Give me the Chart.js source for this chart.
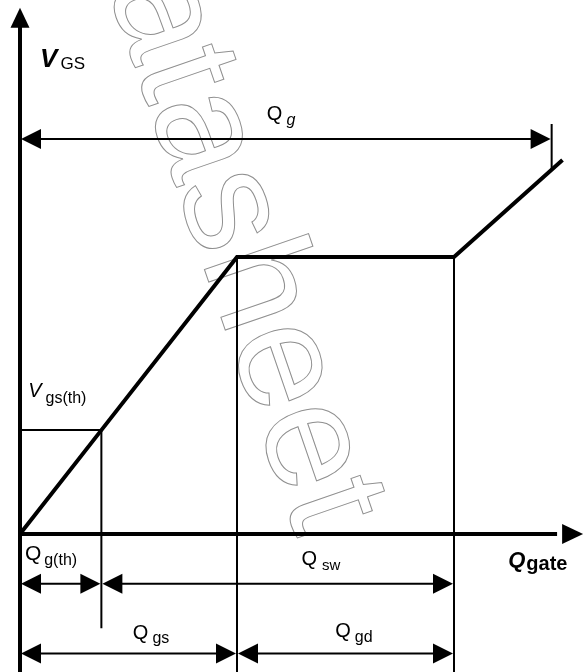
<!DOCTYPE html>
<html>
<head>
<meta charset="utf-8">
<script src="https://cdn.jsdelivr.net/npm/chart.js@4"></script>
<style>
  body { margin: 0; background: #fff; }
  canvas { display: block; }
</style>
</head>
<body>
<canvas id="gateChart" width="587" height="672"></canvas>
<script>
// gate charge curve (Q in nC, V in volts)
const chargeQ = [0, 1.5, 4, 8, 10];
const gateV = [0, 3.75, 10, 10, 13.5];

// key levels
const qTh = 1.5, qGs = 4, qSwEnd = 8, qG = 9.8;
const vTh = 3.75, vPlateau = 10, vAtQg = 13.15;

// dimension arrows: from, to, level (V units)
const dimFrom = [0, 0, 1.5, 0, 4];
const dimTo = [9.8, 1.5, 8, 4, 8];
const dimLevel = [14.26, -1.8, -1.8, -4.31, -4.31];

// labels
const labelMain = ["V", "Q", "V", "Q", "Q", "Q", "Q", "Q"];
const labelSub = ["GS", "g", "gs(th)", "g(th)", "sw", "gate", "gs", "gd"];

const FONT = "'Liberation Sans', Arial, sans-serif";

// where every label sits (data units) and how it is styled
const labelStyle = [
    { x: 0.37, y: 16.86, main: "bold italic 26px", sub: "17px", gap: 3, drop: 2 },
    { x: 4.55, y: 14.95, main: "20px", sub: "italic 16px", gap: 4, drop: 5 },
    { x: 0.15, y: 4.95, main: "italic 20px", sub: "16px", gap: 4, drop: 6 },
    { x: 0.09, y: -0.94, main: "21px", sub: "16px", gap: 3, drop: 5 },
    { x: 5.19, y: -1.12, main: "20px", sub: "15px", gap: 5, drop: 5 },
    { x: 9.0, y: -1.19, main: "bold italic 22px", sub: "bold 20px", gap: 1, drop: 3 },
    { x: 2.08, y: -3.79, main: "20px", sub: "16px", gap: 4, drop: 4 },
    { x: 5.81, y: -3.71, main: "20px", sub: "16px", gap: 4, drop: 5 }
];

const curve = chargeQ.map((q, i) => ({ x: q, y: gateV[i] }));

function line(points, width) {
    return {
        data: points,
        showLine: true,
        borderColor: "#000",
        borderWidth: width,
        pointRadius: 0,
        clip: false,
        borderJoinStyle: "miter"
    };
}

function arrowHead(ctx, tipX, tipY, dirX, dirY, len, half) {
    const px = -dirY, py = dirX;
    ctx.beginPath();
    ctx.moveTo(tipX, tipY);
    ctx.lineTo(tipX - dirX * len + px * half, tipY - dirY * len + py * half);
    ctx.lineTo(tipX - dirX * len - px * half, tipY - dirY * len - py * half);
    ctx.closePath();
    ctx.fill();
}

const sketchPlugin = {
    id: "sketch",
    beforeDatasetsDraw(chart) {
        // faint outlined watermark
        const ctx = chart.ctx;
        ctx.save();
        ctx.translate(80, -92);
        ctx.rotate(71 * Math.PI / 180);
        ctx.font = "152px " + FONT;
        ctx.strokeStyle = "#8f8f8f";
        ctx.lineWidth = 1;
        ctx.strokeText("datasheet", 0, 0);
        ctx.restore();
    },
    afterDatasetsDraw(chart) {
        const ctx = chart.ctx;
        const xs = chart.scales.x, ys = chart.scales.y;
        ctx.save();
        ctx.fillStyle = "#000";
        ctx.strokeStyle = "#000";

        // axis arrowheads
        arrowHead(ctx, xs.getPixelForValue(0), ys.getPixelForValue(19.0), 0, -1, 20, 9.5);
        arrowHead(ctx, xs.getPixelForValue(10.38), ys.getPixelForValue(0), 1, 0, 21, 10);

        // dimension arrows
        ctx.lineWidth = 2;
        dimFrom.forEach((f, i) => {
            const y = ys.getPixelForValue(dimLevel[i]);
            const x1 = xs.getPixelForValue(f) + 1;
            const x2 = xs.getPixelForValue(dimTo[i]) - 1;
            ctx.beginPath();
            ctx.moveTo(x1 + 10, y);
            ctx.lineTo(x2 - 10, y);
            ctx.stroke();
            arrowHead(ctx, x1, y, -1, 0, 20, 10);
            arrowHead(ctx, x2, y, 1, 0, 20, 10);
        });

        // labels
        ctx.textBaseline = "alphabetic";
        ctx.textAlign = "left";
        labelMain.forEach((m, i) => {
            const s = labelStyle[i];
            const x = xs.getPixelForValue(s.x);
            const y = ys.getPixelForValue(s.y);
            ctx.font = s.main + " " + FONT;
            ctx.fillText(m, x, y);
            const w = ctx.measureText(m).width;
            ctx.font = s.sub + " " + FONT;
            ctx.fillText(labelSub[i], x + w + s.gap, y + s.drop);
        });
        ctx.restore();
    }
};

new Chart(document.getElementById("gateChart"), {
    type: "scatter",
    data: {
        datasets: [
            line([{ x: 0, y: -5 }, { x: 0, y: 18.4 }], 4),          // V axis
            line([{ x: 0, y: 0 }, { x: 9.9, y: 0 }], 4),            // Q axis
            line([{ x: 0, y: vTh }, { x: qTh, y: vTh }, { x: qTh, y: -3.4 }], 2),
            line([{ x: qGs, y: vPlateau }, { x: qGs, y: -5 }], 2),
            line([{ x: qSwEnd, y: vPlateau }, { x: qSwEnd, y: -5 }], 2),
            line([{ x: qG, y: 14.8 }, { x: qG, y: vAtQg }], 2),
            line(curve, 4)
        ]
    },
    options: {
        responsive: false,
        animation: false,
        devicePixelRatio: 1,
        layout: { padding: 0 },
        plugins: {
            legend: { display: false },
            tooltip: { enabled: false }
        },
        scales: {
            x: { type: "linear", display: false, min: -0.3687, max: 10.4516 },
            y: { type: "linear", display: false, min: -4.982, max: 19.278 }
        }
    },
    plugins: [sketchPlugin]
});
</script>
</body>
</html>
